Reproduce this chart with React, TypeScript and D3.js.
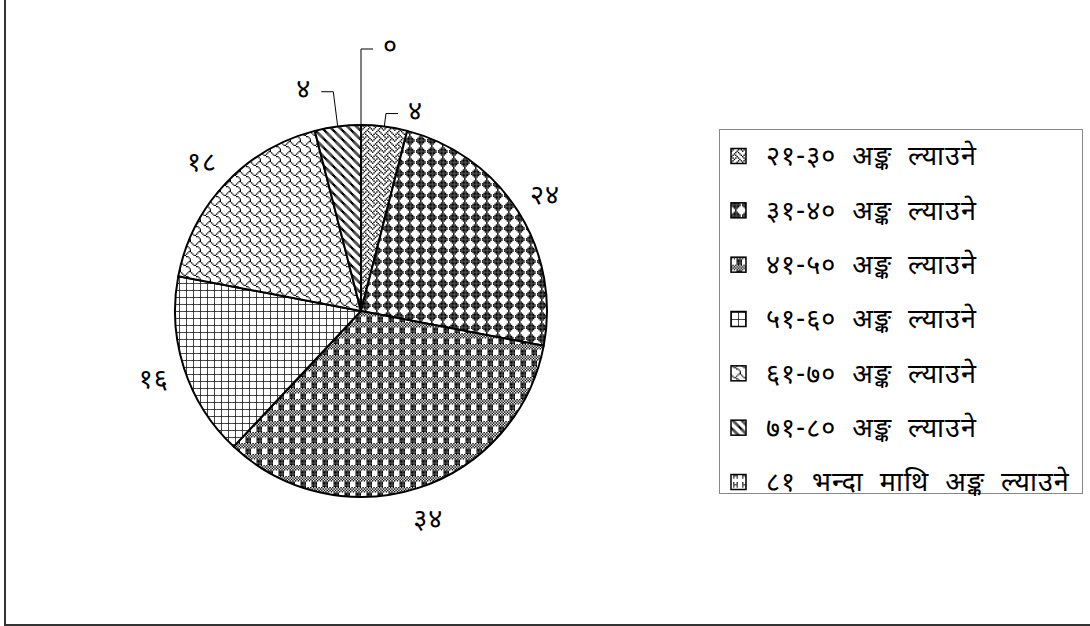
import React from "react";
import * as d3 from "d3";

// chart data
const categories = [
  "२१-३० अङ्क ल्याउने",
  "३१-४० अङ्क ल्याउने",
  "४१-५० अङ्क ल्याउने",
  "५१-६० अङ्क ल्याउने",
  "६१-७० अङ्क ल्याउने",
  "७१-८० अङ्क ल्याउने",
  "८१ भन्दा माथि अङ्क ल्याउने",
];
const values = [4, 24, 34, 16, 18, 4, 0];

const W = 1090;
const H = 626;
const cx = 361;
const cy = 311;
const R = 186;
const FONT = "'Noto Sans Devanagari', 'Lohit Devanagari', 'Noto Sans', sans-serif";
const FS = 27;

const devDigits = "०१२३४५६७८९";
const toDev = (n: number) => String(n).replace(/\d/g, (d) => devDigits[+d]);

// 8x8 hatch bitmaps (office style fills), one per slice
const hatches: { bits: number[]; size: number }[] = [
  { bits: [0x88, 0x54, 0x22, 0x45, 0x88, 0x14, 0x22, 0x51], size: 11 }, // weave
  { bits: [0x10, 0x38, 0x7c, 0xfe, 0xfe, 0x7c, 0x38, 0x10], size: 11 }, // solid diamond
  { bits: [0x55, 0xaa, 0x55, 0xaa, 0x0f, 0x0f, 0x0f, 0x0f], size: 11 }, // plaid
  { bits: [0xff, 0x80, 0x80, 0x80, 0x80, 0x80, 0x80, 0x80], size: 7 }, // grid
  { bits: [0x03, 0x84, 0x48, 0x30, 0x0c, 0x02, 0x01, 0x01], size: 10 }, // shingle
  { bits: [0xc1, 0xe0, 0x70, 0x38, 0x1c, 0x0e, 0x07, 0x83], size: 9 }, // wide downward diagonal
  { bits: [0x24, 0x24, 0x3c, 0x24, 0x24, 0x00, 0x00, 0x00], size: 9 }, // 81+
];

// leader placement for the thin slices: elbow radius and tail direction
const leaders: Record<number, { r: number; dir: number }> = {
  0: { r: 199, dir: 1 },
  5: { r: 221, dir: -1 },
  6: { r: 262, dir: 1 },
};
const labelR = 218;

function Hatch({ id, bits, size }: { id: string; bits: number[]; size: number }) {
  const s = size / 8;
  const cells: JSX.Element[] = [];
  bits.forEach((row, y) => {
    for (let x = 0; x < 8; x++) {
      if (row & (0x80 >> x)) cells.push(<rect key={x + "-" + y} x={x} y={y} width={1.01} height={1.01} />);
    }
  });
  return (
    <pattern id={id} width={size} height={size} patternUnits="userSpaceOnUse">
      <rect width={size} height={size} fill="#fff" />
      <g transform={`scale(${s})`} fill="#000">
        {cells}
      </g>
    </pattern>
  );
}

export default function App() {
  const pie = d3.pie<number>().sort(null).value((d) => d);
  const arcs = pie(values);
  const arcGen = d3.arc<d3.PieArcDatum<number>>().innerRadius(0).outerRadius(R);
  const polar = (a: number, r: number): [number, number] => [Math.sin(a) * r, -Math.cos(a) * r];

  const legendRow = d3.scaleLinear().domain([0, categories.length - 1]).range([156, 482]);

  return (
    <svg width={W} height={H} style={{ position: "absolute", left: 0, top: 0, background: "#fff" }}>
      <defs>
        {hatches.map((h, i) => (
          <Hatch key={i} id={"hatch" + i} bits={h.bits} size={h.size} />
        ))}
      </defs>
      <rect x={5} y={-10} width={W + 10} height={635} fill="none" stroke="#333" strokeWidth={2} />

      <g transform={`translate(${cx},${cy})`}>
        {arcs.map((a, i) => (
          <path key={i} d={arcGen(a) || ""} fill={`url(#hatch${i})`} stroke="#000" strokeWidth={2} strokeLinejoin="round" />
        ))}
        {arcs.map((a, i) => {
          const mid = (a.startAngle + a.endAngle) / 2;
          const lead = leaders[i];
          if (lead) {
            const [x0, y0] = polar(mid, R);
            const [x1, y1] = polar(mid, lead.r);
            const x2 = x1 + lead.dir * 12;
            return (
              <g key={i}>
                <polyline points={`${x0},${y0} ${x1},${y1} ${x2},${y1}`} fill="none" stroke="#000" strokeWidth={1} />
                <text x={x2 + lead.dir * 10} y={y1 - 3} textAnchor={lead.dir > 0 ? "start" : "end"} dy="0.35em"
                  fontFamily={FONT} fontSize={FS} letterSpacing={1}>
                  {toDev(a.data)}
                </text>
              </g>
            );
          }
          const [lx, ly] = polar(mid, labelR);
          return (
            <text key={i} x={lx} y={ly} textAnchor="middle" dy="0.35em" fontFamily={FONT} fontSize={FS} letterSpacing={1}>
              {toDev(a.data)}
            </text>
          );
        })}
      </g>

      <rect x={719.5} y={129.5} width={363} height={364} fill="#fff" stroke="#888" strokeWidth={1} />
      {categories.map((c, i) => (
        <g key={i} transform={`translate(731,${legendRow(i)})`}>
          <rect x={0} y={-7.5} width={15} height={15} fill={`url(#hatch${i})`} stroke="#000" strokeWidth={1.5} />
          <text x={35} y={0} dy="0.35em" fontFamily={FONT} fontSize={FS} letterSpacing={1} wordSpacing={8}>
            {c}
          </text>
        </g>
      ))}
    </svg>
  );
}
